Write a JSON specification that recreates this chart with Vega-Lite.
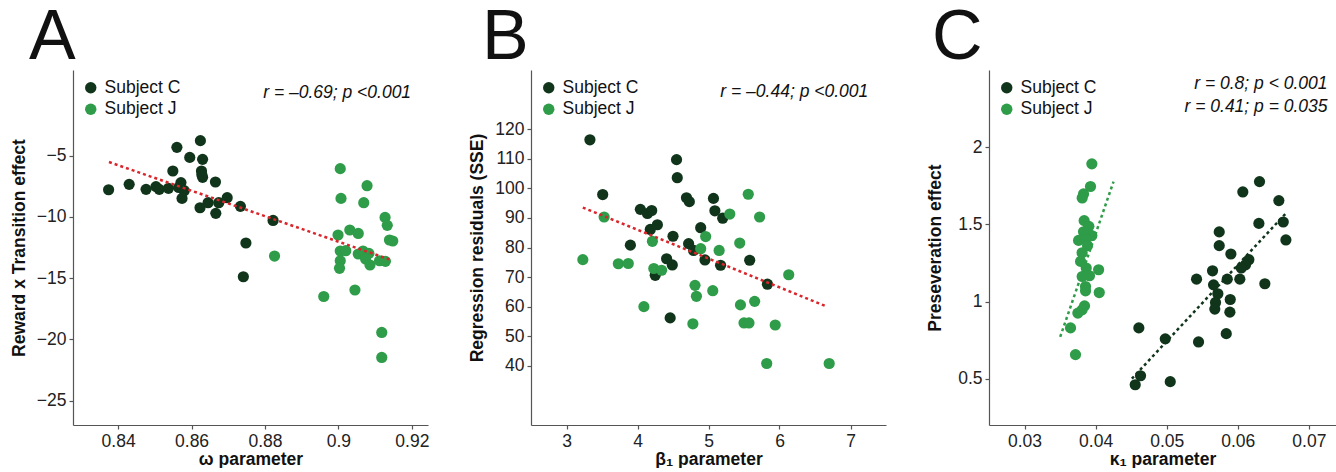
{
  "$schema": "https://vega.github.io/schema/vega-lite/v6.json",
  "background": "white",
  "padding": {"left": 10, "top": 3, "right": 0, "bottom": 0},
  "bounds": "flush",
  "spacing": 103,
  "resolve": {"scale": {"color": "independent"}, "legend": {"color": "independent"}},
  "config": {
    "view": {"stroke": null},
    "font": "Liberation Sans",
    "axis": {
      "grid": false,
      "domainColor": "#555",
      "tickColor": "#555",
      "domainWidth": 1.2,
      "tickWidth": 1.2,
      "tickSize": 4,
      "labelFont": "Liberation Sans",
      "labelFontSize": 17.5,
      "labelColor": "#222",
      "labelPadding": 3,
      "labelFlush": false,
      "labelOverlap": false,
      "titleFont": "Liberation Sans",
      "titleFontSize": 17.5,
      "titleFontWeight": "bold",
      "titleColor": "#111"
    },
    "axisX": {"titleY": 34, "titleBaseline": "middle"},
    "axisY": {"titleX": -54, "titleBaseline": "middle"},
    "legend": {
      "orient": "top-left",
      "offset": 9,
      "padding": 0,
      "labelFont": "Liberation Sans",
      "labelFontSize": 17.5,
      "labelColor": "#111",
      "symbolSize": 130,
      "symbolType": "circle",
      "rowPadding": 2.5,
      "labelOffset": 5
    },
    "title": {"anchor": "start", "frame": "group", "fontSize": 70, "font": "Liberation Sans", "fontWeight": "normal", "color": "#111", "baseline": "alphabetic", "offset": -4}
  },
  "datasets": {
    "A": [
      {"subject": "Subject C", "x": 0.8374, "y": -7.78},
      {"subject": "Subject C", "x": 0.8430, "y": -7.34},
      {"subject": "Subject C", "x": 0.8476, "y": -7.75},
      {"subject": "Subject C", "x": 0.8503, "y": -7.53},
      {"subject": "Subject C", "x": 0.8512, "y": -7.75},
      {"subject": "Subject C", "x": 0.8537, "y": -7.67},
      {"subject": "Subject C", "x": 0.8560, "y": -4.32},
      {"subject": "Subject C", "x": 0.8549, "y": -6.25},
      {"subject": "Subject C", "x": 0.8571, "y": -7.2},
      {"subject": "Subject C", "x": 0.8580, "y": -7.86},
      {"subject": "Subject C", "x": 0.8574, "y": -8.49},
      {"subject": "Subject C", "x": 0.8595, "y": -5.14},
      {"subject": "Subject C", "x": 0.8624, "y": -3.77},
      {"subject": "Subject C", "x": 0.8630, "y": -5.30},
      {"subject": "Subject C", "x": 0.8627, "y": -6.25},
      {"subject": "Subject C", "x": 0.8630, "y": -6.77},
      {"subject": "Subject C", "x": 0.8628, "y": -6.55},
      {"subject": "Subject C", "x": 0.8565, "y": -7.6},
      {"subject": "Subject C", "x": 0.8623, "y": -9.25},
      {"subject": "Subject C", "x": 0.8645, "y": -8.84},
      {"subject": "Subject C", "x": 0.8665, "y": -7.15},
      {"subject": "Subject C", "x": 0.8674, "y": -8.84},
      {"subject": "Subject C", "x": 0.8666, "y": -9.71},
      {"subject": "Subject C", "x": 0.8697, "y": -8.43},
      {"subject": "Subject C", "x": 0.8733, "y": -9.14},
      {"subject": "Subject C", "x": 0.8822, "y": -10.29},
      {"subject": "Subject C", "x": 0.8748, "y": -12.13},
      {"subject": "Subject C", "x": 0.8741, "y": -14.89},
      {"subject": "Subject J", "x": 0.9005, "y": -6.06},
      {"subject": "Subject J", "x": 0.9007, "y": -8.49},
      {"subject": "Subject J", "x": 0.9078, "y": -7.45},
      {"subject": "Subject J", "x": 0.9069, "y": -8.84},
      {"subject": "Subject J", "x": 0.9127, "y": -10.04},
      {"subject": "Subject J", "x": 0.9133, "y": -10.69},
      {"subject": "Subject J", "x": 0.9139, "y": -11.89},
      {"subject": "Subject J", "x": 0.9148, "y": -11.97},
      {"subject": "Subject J", "x": 0.8999, "y": -11.48},
      {"subject": "Subject J", "x": 0.9031, "y": -11.07},
      {"subject": "Subject J", "x": 0.9054, "y": -11.35},
      {"subject": "Subject J", "x": 0.9005, "y": -12.79},
      {"subject": "Subject J", "x": 0.9020, "y": -12.76},
      {"subject": "Subject J", "x": 0.9005, "y": -13.58},
      {"subject": "Subject J", "x": 0.9003, "y": -14.2},
      {"subject": "Subject J", "x": 0.9054, "y": -13.03},
      {"subject": "Subject J", "x": 0.9067, "y": -12.79},
      {"subject": "Subject J", "x": 0.9083, "y": -12.98},
      {"subject": "Subject J", "x": 0.9074, "y": -13.44},
      {"subject": "Subject J", "x": 0.9086, "y": -13.93},
      {"subject": "Subject J", "x": 0.9112, "y": -13.58},
      {"subject": "Subject J", "x": 0.9128, "y": -13.63},
      {"subject": "Subject J", "x": 0.8826, "y": -13.2},
      {"subject": "Subject J", "x": 0.8960, "y": -16.5},
      {"subject": "Subject J", "x": 0.9045, "y": -15.97},
      {"subject": "Subject J", "x": 0.9118, "y": -19.44},
      {"subject": "Subject J", "x": 0.9118, "y": -21.48}
    ],
    "lineA": [{"x": 0.8375, "y": -5.52}, {"x": 0.9139, "y": -13.47}],
    "B": [
      {"subject": "Subject C", "x": 3.33, "y": 116.4},
      {"subject": "Subject C", "x": 3.51, "y": 97.9},
      {"subject": "Subject C", "x": 4.04, "y": 92.9},
      {"subject": "Subject C", "x": 4.14, "y": 91.5},
      {"subject": "Subject C", "x": 4.20, "y": 92.5},
      {"subject": "Subject C", "x": 4.18, "y": 86.1},
      {"subject": "Subject C", "x": 4.28, "y": 87.7},
      {"subject": "Subject C", "x": 3.90, "y": 80.8},
      {"subject": "Subject C", "x": 4.50, "y": 83.8},
      {"subject": "Subject C", "x": 4.55, "y": 109.7},
      {"subject": "Subject C", "x": 4.56, "y": 103.6},
      {"subject": "Subject C", "x": 4.69, "y": 96.8},
      {"subject": "Subject C", "x": 4.73, "y": 95.5},
      {"subject": "Subject C", "x": 5.07, "y": 96.6},
      {"subject": "Subject C", "x": 5.09, "y": 92.4},
      {"subject": "Subject C", "x": 5.20, "y": 89.9},
      {"subject": "Subject C", "x": 4.89, "y": 86.7},
      {"subject": "Subject C", "x": 4.72, "y": 81.3},
      {"subject": "Subject C", "x": 4.79, "y": 79.0},
      {"subject": "Subject C", "x": 4.41, "y": 76.2},
      {"subject": "Subject C", "x": 4.49, "y": 74.1},
      {"subject": "Subject C", "x": 4.25, "y": 70.6},
      {"subject": "Subject C", "x": 4.95, "y": 75.8},
      {"subject": "Subject C", "x": 5.17, "y": 74.0},
      {"subject": "Subject C", "x": 5.58, "y": 75.7},
      {"subject": "Subject C", "x": 5.83, "y": 67.6},
      {"subject": "Subject C", "x": 4.46, "y": 56.2},
      {"subject": "Subject J", "x": 3.23, "y": 75.9},
      {"subject": "Subject J", "x": 3.53, "y": 90.3},
      {"subject": "Subject J", "x": 3.73, "y": 74.5},
      {"subject": "Subject J", "x": 3.87, "y": 74.6},
      {"subject": "Subject J", "x": 4.21, "y": 82.1},
      {"subject": "Subject J", "x": 4.23, "y": 72.9},
      {"subject": "Subject J", "x": 4.34, "y": 72.3},
      {"subject": "Subject J", "x": 4.09, "y": 60.0},
      {"subject": "Subject J", "x": 4.96, "y": 83.7},
      {"subject": "Subject J", "x": 4.89, "y": 79.6},
      {"subject": "Subject J", "x": 5.15, "y": 79.0},
      {"subject": "Subject J", "x": 5.30, "y": 91.3},
      {"subject": "Subject J", "x": 5.56, "y": 98.0},
      {"subject": "Subject J", "x": 5.72, "y": 90.3},
      {"subject": "Subject J", "x": 5.44, "y": 81.5},
      {"subject": "Subject J", "x": 4.81, "y": 67.2},
      {"subject": "Subject J", "x": 4.83, "y": 63.5},
      {"subject": "Subject J", "x": 5.06, "y": 65.4},
      {"subject": "Subject J", "x": 4.78, "y": 54.2},
      {"subject": "Subject J", "x": 5.45, "y": 60.6},
      {"subject": "Subject J", "x": 5.65, "y": 61.8},
      {"subject": "Subject J", "x": 5.50, "y": 54.5},
      {"subject": "Subject J", "x": 5.57, "y": 54.5},
      {"subject": "Subject J", "x": 5.94, "y": 53.8},
      {"subject": "Subject J", "x": 6.13, "y": 70.8},
      {"subject": "Subject J", "x": 5.82, "y": 40.8},
      {"subject": "Subject J", "x": 6.70, "y": 40.8}
    ],
    "lineB": [{"x": 3.23, "y": 93.5}, {"x": 6.66, "y": 60.1}],
    "C": [
      {"subject": "Subject C", "x": 0.06306, "y": 1.777},
      {"subject": "Subject C", "x": 0.06071, "y": 1.710},
      {"subject": "Subject C", "x": 0.06578, "y": 1.654},
      {"subject": "Subject C", "x": 0.06297, "y": 1.506},
      {"subject": "Subject C", "x": 0.06640, "y": 1.515},
      {"subject": "Subject C", "x": 0.06677, "y": 1.399},
      {"subject": "Subject C", "x": 0.05739, "y": 1.451},
      {"subject": "Subject C", "x": 0.05739, "y": 1.362},
      {"subject": "Subject C", "x": 0.05903, "y": 1.308},
      {"subject": "Subject C", "x": 0.06156, "y": 1.271},
      {"subject": "Subject C", "x": 0.06109, "y": 1.238},
      {"subject": "Subject C", "x": 0.06049, "y": 1.217},
      {"subject": "Subject C", "x": 0.05645, "y": 1.199},
      {"subject": "Subject C", "x": 0.05420, "y": 1.145},
      {"subject": "Subject C", "x": 0.05852, "y": 1.145},
      {"subject": "Subject C", "x": 0.06029, "y": 1.145},
      {"subject": "Subject C", "x": 0.06381, "y": 1.115},
      {"subject": "Subject C", "x": 0.05659, "y": 1.108},
      {"subject": "Subject C", "x": 0.05720, "y": 1.050},
      {"subject": "Subject C", "x": 0.05687, "y": 0.994},
      {"subject": "Subject C", "x": 0.05677, "y": 0.951},
      {"subject": "Subject C", "x": 0.05894, "y": 1.013},
      {"subject": "Subject C", "x": 0.05889, "y": 0.931},
      {"subject": "Subject C", "x": 0.05838, "y": 0.792},
      {"subject": "Subject C", "x": 0.05448, "y": 0.738},
      {"subject": "Subject C", "x": 0.04608, "y": 0.829},
      {"subject": "Subject C", "x": 0.04980, "y": 0.758},
      {"subject": "Subject C", "x": 0.04632, "y": 0.519},
      {"subject": "Subject C", "x": 0.04557, "y": 0.461},
      {"subject": "Subject C", "x": 0.05050, "y": 0.481},
      {"subject": "Subject J", "x": 0.03947, "y": 1.892},
      {"subject": "Subject J", "x": 0.03928, "y": 1.745},
      {"subject": "Subject J", "x": 0.03830, "y": 1.697},
      {"subject": "Subject J", "x": 0.03811, "y": 1.671},
      {"subject": "Subject J", "x": 0.03839, "y": 1.524},
      {"subject": "Subject J", "x": 0.03905, "y": 1.487},
      {"subject": "Subject J", "x": 0.03947, "y": 1.427},
      {"subject": "Subject J", "x": 0.03830, "y": 1.452},
      {"subject": "Subject J", "x": 0.03760, "y": 1.396},
      {"subject": "Subject J", "x": 0.03858, "y": 1.405},
      {"subject": "Subject J", "x": 0.03886, "y": 1.362},
      {"subject": "Subject J", "x": 0.03810, "y": 1.316},
      {"subject": "Subject J", "x": 0.03788, "y": 1.260},
      {"subject": "Subject J", "x": 0.03868, "y": 1.217},
      {"subject": "Subject J", "x": 0.04042, "y": 1.206},
      {"subject": "Subject J", "x": 0.03811, "y": 1.162},
      {"subject": "Subject J", "x": 0.03914, "y": 1.167},
      {"subject": "Subject J", "x": 0.03858, "y": 1.097},
      {"subject": "Subject J", "x": 0.03858, "y": 1.069},
      {"subject": "Subject J", "x": 0.04051, "y": 1.058},
      {"subject": "Subject J", "x": 0.03844, "y": 0.972},
      {"subject": "Subject J", "x": 0.03810, "y": 0.946},
      {"subject": "Subject J", "x": 0.03750, "y": 0.925},
      {"subject": "Subject J", "x": 0.03647, "y": 0.829},
      {"subject": "Subject J", "x": 0.03717, "y": 0.656}
    ],
    "lineCC": [{"x": 0.04510, "y": 0.500}, {"x": 0.06672, "y": 1.569}],
    "lineCJ": [{"x": 0.03502, "y": 0.771}, {"x": 0.04252, "y": 1.777}]
  },
  "hconcat": [
    {
      "width": 355,
      "height": 355,
      "title": {"text": "A", "dx": -44},
      "layer": [
        {
          "data": {"name": "A"},
          "mark": {"type": "circle", "size": 125, "opacity": 1},
          "encoding": {
            "x": {"field": "x", "type": "quantitative", "title": "ω parameter",
                  "scale": {"domain": [0.8277, 0.9244], "nice": false, "zero": false},
                  "axis": {"values": [0.84, 0.86, 0.88, 0.9, 0.92], "format": "~r"}},
            "y": {"field": "y", "type": "quantitative", "title": "Reward x Transition effect",
                  "scale": {"domain": [-27, 2], "nice": false, "zero": false},
                  "axis": {"values": [-25, -20, -15, -10, -5], "format": "d"}},
            "color": {"field": "subject", "type": "nominal",
                      "scale": {"domain": ["Subject C", "Subject J"], "range": ["#10351b", "#2e9c48"]},
                      "legend": {"title": null}}
          }
        },
        {
          "data": {"name": "lineA"},
          "mark": {"type": "line", "color": "#d9262c", "strokeDash": [3, 3], "strokeWidth": 2.5},
          "encoding": {
            "x": {"field": "x", "type": "quantitative", "title": "ω parameter"},
            "y": {"field": "y", "type": "quantitative", "title": "Reward x Transition effect"}
          }
        },
        {
          "data": {"values": [{"label": "r = –0.69; p <0.001"}]},
          "mark": {"type": "text", "align": "right", "baseline": "middle", "fontStyle": "italic", "fontSize": 17.5, "font": "Liberation Sans", "color": "#111"},
          "encoding": {
            "x": {"datum": 0.9198, "type": "quantitative"},
            "y": {"datum": 0.1, "type": "quantitative"},
            "text": {"field": "label"}
          }
        }
      ]
    },
    {
      "width": 355,
      "height": 355,
      "title": {"text": "B", "dx": -49},
      "layer": [
        {
          "data": {"name": "B"},
          "mark": {"type": "circle", "size": 125, "opacity": 1},
          "encoding": {
            "x": {"field": "x", "type": "quantitative", "title": "β₁ parameter",
                  "scale": {"domain": [2.5, 7.5], "nice": false, "zero": false},
                  "axis": {"values": [3, 4, 5, 6, 7], "format": "d"}},
            "y": {"field": "y", "type": "quantitative", "title": "Regression residuals (SSE)",
                  "scale": {"domain": [20, 140], "nice": false, "zero": false},
                  "axis": {"values": [40, 50, 60, 70, 80, 90, 100, 110, 120], "format": "d"}},
            "color": {"field": "subject", "type": "nominal",
                      "scale": {"domain": ["Subject C", "Subject J"], "range": ["#10351b", "#2e9c48"]},
                      "legend": {"title": null}}
          }
        },
        {
          "data": {"name": "lineB"},
          "mark": {"type": "line", "color": "#d9262c", "strokeDash": [3, 3], "strokeWidth": 2.5},
          "encoding": {
            "x": {"field": "x", "type": "quantitative", "title": "β₁ parameter"},
            "y": {"field": "y", "type": "quantitative", "title": "Regression residuals (SSE)"}
          }
        },
        {
          "data": {"values": [{"label": "r = –0.44; p <0.001"}]},
          "mark": {"type": "text", "align": "right", "baseline": "middle", "fontStyle": "italic", "fontSize": 17.5, "font": "Liberation Sans", "color": "#111"},
          "encoding": {
            "x": {"datum": 7.25, "type": "quantitative"},
            "y": {"datum": 132.5, "type": "quantitative"},
            "text": {"field": "label"}
          }
        }
      ]
    },
    {
      "width": 347,
      "height": 355,
      "title": {"text": "C", "dx": -57},
      "layer": [
        {
          "data": {"name": "C"},
          "mark": {"type": "circle", "size": 125, "opacity": 1},
          "encoding": {
            "x": {"field": "x", "type": "quantitative", "title": "κ₁ parameter",
                  "scale": {"domain": [0.025, 0.07382], "nice": false, "zero": false},
                  "axis": {"values": [0.03, 0.04, 0.05, 0.06, 0.07], "format": "~r"}},
            "y": {"field": "y", "type": "quantitative", "title": "Preseveration effect",
                  "scale": {"domain": [0.2, 2.5], "nice": false, "zero": false},
                  "axis": {"values": [0.5, 1, 1.5, 2], "format": "~r"}},
            "color": {"field": "subject", "type": "nominal",
                      "scale": {"domain": ["Subject C", "Subject J"], "range": ["#10351b", "#2e9c48"]},
                      "legend": {"title": null}}
          }
        },
        {
          "data": {"name": "lineCC"},
          "mark": {"type": "line", "color": "#10351b", "strokeDash": [3, 3], "strokeWidth": 2.5},
          "encoding": {
            "x": {"field": "x", "type": "quantitative", "title": "κ₁ parameter"},
            "y": {"field": "y", "type": "quantitative", "title": "Preseveration effect"}
          }
        },
        {
          "data": {"name": "lineCJ"},
          "mark": {"type": "line", "color": "#2e9c48", "strokeDash": [3, 3], "strokeWidth": 2.5},
          "encoding": {
            "x": {"field": "x", "type": "quantitative", "title": "κ₁ parameter"},
            "y": {"field": "y", "type": "quantitative", "title": "Preseveration effect"}
          }
        },
        {
          "data": {"values": [{"label": "r = 0.8; p < 0.001"}]},
          "mark": {"type": "text", "align": "right", "baseline": "middle", "fontStyle": "italic", "fontSize": 17.5, "font": "Liberation Sans", "color": "#111"},
          "encoding": {
            "x": {"datum": 0.07263, "type": "quantitative"},
            "y": {"datum": 2.407, "type": "quantitative"},
            "text": {"field": "label"}
          }
        },
        {
          "data": {"values": [{"label": "r = 0.41; p = 0.035"}]},
          "mark": {"type": "text", "align": "right", "baseline": "middle", "fontStyle": "italic", "fontSize": 17.5, "font": "Liberation Sans", "color": "#111"},
          "encoding": {
            "x": {"datum": 0.07263, "type": "quantitative"},
            "y": {"datum": 2.258, "type": "quantitative"},
            "text": {"field": "label"}
          }
        }
      ]
    }
  ]
}
